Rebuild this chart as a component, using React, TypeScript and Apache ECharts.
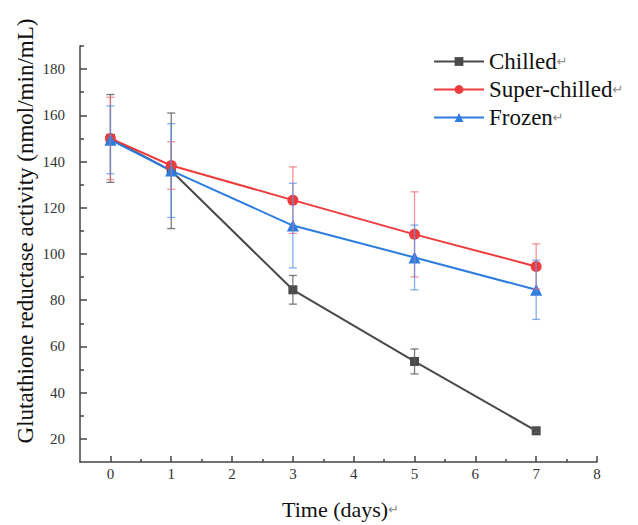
import React, { useEffect, useRef } from "react";
import * as echarts from "echarts";

const days = [0, 1, 3, 5, 7];
const chilledMean = [150, 136, 84.5, 53.5, 23.5];
const chilledErr = [19, 25, 6.2, 5.4, 0.8];
const superMean = [150, 138.3, 123.3, 108.5, 94.6];
const superErr = [17.8, 10.3, 14.4, 18.4, 9.8];
const frozenMean = [149.4, 136.1, 112.3, 98.5, 84.5];
const frozenErr = [14.7, 20.3, 18.3, 14, 12.8];

const seriesNames = ["Chilled", "Super-chilled", "Frozen"];
const seriesColors = ["#4a4a4a", "#ee3b3b", "#2c7ddf"];
const xMajorTicks = [0, 1, 2, 3, 4, 5, 6, 7, 8];
const xMinorTicks = [0.5, 1.5, 2.5, 3.5, 4.5, 5.5, 6.5, 7.5];
const yMajorTicks = [20, 40, 60, 80, 100, 120, 140, 160, 180];
const yMinorTicks = [30, 50, 70, 90, 110, 130, 150, 170, 190];
const xTitle = "Time (days)";
const yTitle = "Glutathione reductase activity (nmol/min/mL)";

const FONT = "Liberation Serif";
const X_MIN = -0.5;
const X_MAX = 8;
const Y_MIN = 10;
const Y_MAX = 190;

export default function App() {
  const ref = useRef<HTMLDivElement>(null);

  useEffect(() => {
    if (!ref.current) return;
    const chart = echarts.init(ref.current, null, { renderer: "svg" });

    const pts = (means: number[]) => days.map((d, i) => [d, means[i]]);
    const errData = (means: number[], errs: number[]) =>
      days.map((d, i) => [d, means[i] - errs[i], means[i] + errs[i]]);

    const errSeries = (name: string, means: number[], errs: number[], color: string) => ({
      type: "custom",
      name,
      xAxisIndex: 0,
      yAxisIndex: 0,
      z: 5,
      silent: true,
      encode: { x: 0, y: [1, 2] },
      data: errData(means, errs),
      renderItem: (params: any, api: any) => {
        const x = api.value(0);
        const lo = api.value(1);
        const hi = api.value(2);
        const p1 = api.coord([x, hi]);
        const p2 = api.coord([x, lo]);
        const w = 4;
        const style = { stroke: color, lineWidth: 1.3, fill: "none" };
        return {
          type: "group",
          children: [
            { type: "line", shape: { x1: p1[0], y1: p1[1], x2: p2[0], y2: p2[1] }, style },
            { type: "line", shape: { x1: p1[0] - w, y1: p1[1], x2: p1[0] + w, y2: p1[1] }, style },
            { type: "line", shape: { x1: p2[0] - w, y1: p2[1], x2: p2[0] + w, y2: p2[1] }, style },
          ],
        };
      },
    });

    const lineSeries = (name: string, means: number[], color: string, symbol: string, size: number) => ({
      type: "line",
      name,
      xAxisIndex: 0,
      yAxisIndex: 0,
      data: pts(means),
      symbol,
      symbolSize: size,
      z: 3,
      lineStyle: { color, width: 2 },
      itemStyle: { color, borderWidth: 0 },
    });

    const axisLine = { show: true, onZero: false, lineStyle: { color: "#444", width: 1.5 } };
    const noLine = { show: false, onZero: false };
    const tickStyle = { color: "#444", width: 1.5 };

    const valueAxis = (
      min: number,
      max: number,
      position: string,
      ticks: number[],
      len: number,
      line: any,
      label: any
    ) => ({
      type: "value",
      min,
      max,
      position,
      axisLine: line,
      splitLine: { show: false },
      axisLabel: label,
      axisTick: { show: true, inside: true, length: len, customValues: ticks, lineStyle: tickStyle },
    });

    const labelText = { fontFamily: FONT, fontSize: 15, color: "#333" };

    chart.setOption({
      animation: false,
      backgroundColor: "#ffffff",
      textStyle: { fontFamily: FONT },
      grid: { left: 80, right: 41, top: 46, bottom: 63, containLabel: false },
      legend: {
        data: seriesNames,
        orient: "vertical",
        left: 433,
        top: 50,
        padding: 0,
        itemWidth: 50,
        itemHeight: 11,
        itemGap: 5,
        selectedMode: false,
        formatter: (n: string) => n + "{r|↵}",
        textStyle: {
          fontFamily: FONT,
          fontSize: 23,
          lineHeight: 23,
          color: "#111",
          rich: {
            r: { fontFamily: "DejaVu Sans", fontSize: 13, lineHeight: 23, color: "#8a8a8a" },
          },
        },
      },
      xAxis: [
        valueAxis(X_MIN, X_MAX, "bottom", xMajorTicks, 6, axisLine, {
          ...labelText,
          customValues: xMajorTicks,
          margin: 4,
        }),
        valueAxis(X_MIN, X_MAX, "bottom", xMinorTicks, 3, noLine, { show: false }),
      ],
      yAxis: [
        valueAxis(Y_MIN, Y_MAX, "left", yMajorTicks, 7, axisLine, {
          ...labelText,
          customValues: yMajorTicks,
          margin: 15,
        }),
        valueAxis(Y_MIN, Y_MAX, "left", yMinorTicks, 4, noLine, { show: false }),
      ],
      graphic: [
        {
          type: "text",
          x: 25,
          y: 231,
          rotation: Math.PI / 2,
          silent: true,
          style: {
            text: yTitle,
            fontFamily: FONT,
            fontSize: 23,
            fill: "#111",
            align: "center",
            verticalAlign: "middle",
          },
        },
        {
          type: "text",
          x: 282,
          y: 509,
          silent: true,
          style: {
            text: xTitle + "{r|↵}",
            fontFamily: FONT,
            fontSize: 22,
            fill: "#111",
            align: "left",
            verticalAlign: "middle",
            rich: { r: { fontFamily: "DejaVu Sans", fontSize: 13, fill: "#8a8a8a" } },
          },
        },
      ],
      series: [
        lineSeries(seriesNames[0], chilledMean, seriesColors[0], "rect", 9),
        lineSeries(seriesNames[1], superMean, seriesColors[1], "circle", 11),
        lineSeries(seriesNames[2], frozenMean, seriesColors[2], "triangle", 12),
        errSeries("Chilled SD", chilledMean, chilledErr, "rgba(90,90,90,0.8)"),
        errSeries("Super-chilled SD", superMean, superErr, "rgba(240,110,120,0.75)"),
        errSeries("Frozen SD", frozenMean, frozenErr, "rgba(80,140,230,0.7)"),
      ],
    });

    return () => chart.dispose();
  }, []);

  return (
    <div
      ref={ref}
      style={{ position: "absolute", left: 0, top: 0, width: 638, height: 525 }}
    />
  );
}
